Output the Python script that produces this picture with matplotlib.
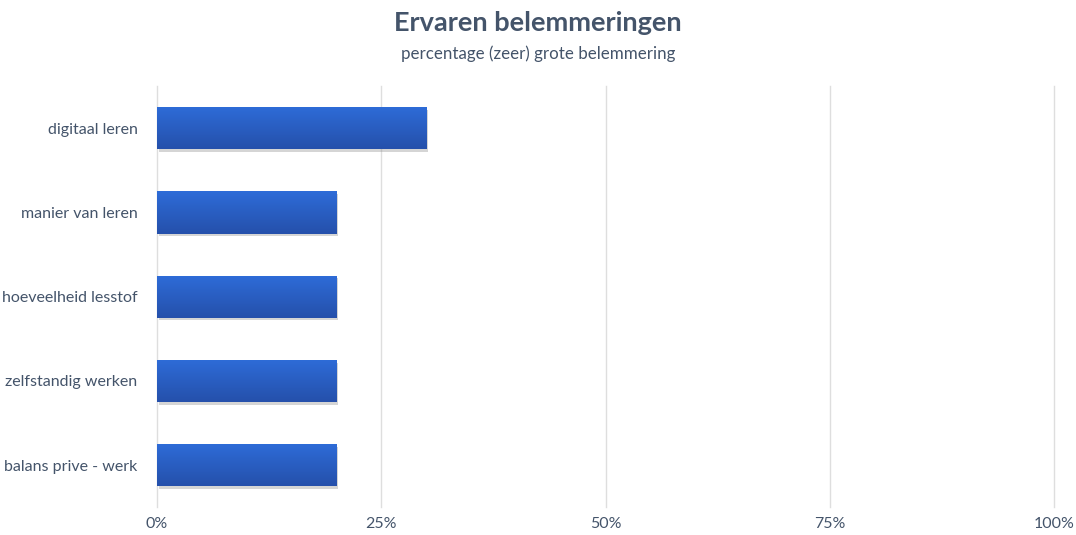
import numpy as np
import matplotlib.pyplot as plt
import matplotlib.patheffects as pe
from matplotlib.colors import LinearSegmentedColormap
from matplotlib.ticker import FuncFormatter

categories = ['digitaal leren', 'manier van leren', 'hoeveelheid lesstof',
              'zelfstandig werken', 'balans prive - werk']
values = [30, 20, 20, 20, 20]
xticks = [0, 25, 50, 75, 100]

txt = '#44546A'
plt.rcParams['font.family'] = ['Lato', 'DejaVu Sans']

fig = plt.figure(figsize=(10.76, 5.35), dpi=100)
ax = fig.add_axes([0.1459, 0.052, 0.8337, 0.787])

y = np.arange(len(categories))
bars = ax.barh(y, values, height=0.5, color='#2A5FC4', zorder=2)

# gradient fill + soft shadow per bar
cmap = LinearSegmentedColormap.from_list('g', ['#2E6CD8', '#2550AB'])
grad = np.linspace(0, 1, 100).reshape(-1, 1)
for b in bars:
    x0, y0 = b.get_x(), b.get_y()
    w, h = b.get_width(), b.get_height()
    b.set_path_effects([pe.SimplePatchShadow(offset=(1.5, -2), shadow_rgbFace='#888888', alpha=0.35),
                        pe.Normal()])
    im = ax.imshow(grad, cmap=cmap, aspect='auto', extent=(x0, x0 + w, y0 + h, y0),
                   zorder=3, interpolation='bicubic')
    im.set_clip_path(b)
ax.set_aspect('auto')
ax.set_xlim(0, 100)
ax.set_ylim(len(categories) - 0.5, -0.5)

ax.set_yticks(y)
ax.set_yticklabels(categories, color=txt, fontsize=11.5)
ax.set_xticks(xticks)
ax.xaxis.set_major_formatter(FuncFormatter(lambda v, p: f'{v:.0f}%'))
ax.tick_params(axis='x', colors=txt, labelsize=11.5, length=0, pad=7)
ax.tick_params(axis='y', length=0, pad=14)
ax.grid(axis='x', color='#DEDEDE', linewidth=1, zorder=0)
for gl in ax.get_xgridlines():
    gl.set_clip_on(False)
for s in ax.spines.values():
    s.set_visible(False)

fig.text(0.5, 0.957, 'Ervaren belemmeringen', ha='center', va='center',
         fontsize=19.5, fontweight='bold', color=txt)
fig.text(0.5, 0.9, 'percentage (zeer) grote belemmering', ha='center', va='center',
         fontsize=12.2, color=txt)

plt.savefig('out.png', dpi=100)
